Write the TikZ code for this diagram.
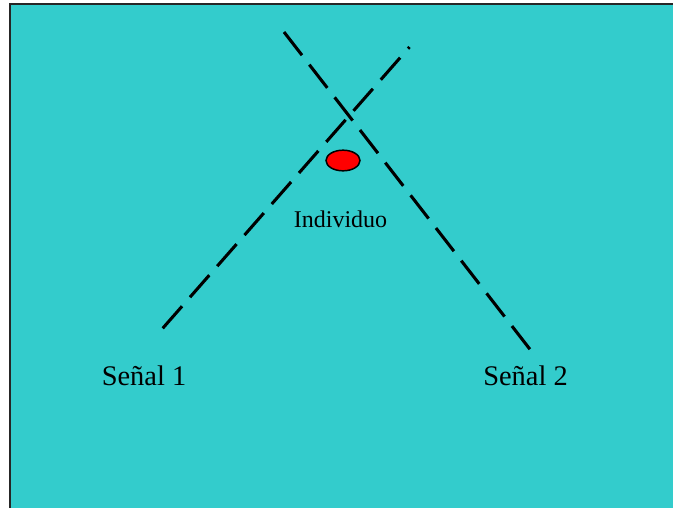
\documentclass[tikz,border=0pt]{standalone}
\usepackage{fontspec}
\setmainfont{Liberation Serif}
\usepackage{tikz}
\usetikzlibrary{positioning,shapes.geometric}
\definecolor{fondo}{RGB}{51,204,204}

\begin{document}
\begin{tikzpicture}[
    x=0.75pt, y=-0.75pt,
    senal/.style={draw, line width=2.3pt, dash pattern=on 22pt off 9pt},
    etiqueta/.style={anchor=base, inner sep=0pt, font=\fontsize{21.3}{24}\selectfont},
    persona/.style={draw, ellipse, fill=red, line width=1.1pt, minimum width=25.5pt, minimum height=15.5pt, inner sep=0pt}
]
\useasboundingbox (0,0) rectangle (673,508);

% Fondo
\fill[fondo] (10,4) rectangle (673,508);
\draw[line width=1.5pt, black!85] (10,508) -- (10,4) -- (673,4);

% Extremos de las señales
\coordinate (s1a) at (162.7,328.3);
\coordinate (s1b) at (409.5,47);
\coordinate (s2a) at (284,32);
\coordinate (s2b) at (530.5,350);

% Señales
\draw[senal] (s1a) -- (s1b);
\draw[senal] (s2a) -- (s2b);

% Individuo
\node[persona] (indiv) at (343,160.5) {};
\node[anchor=base, inner sep=0pt, font=\fontsize{18}{21}\selectfont] (lbl) at (340.5,227.3) {Individuo};

% Etiquetas
\node[etiqueta] (l1) at (144,385.7) {Señal 1};
\node[etiqueta] (l2) at (525.5,385) {Señal 2};

\end{tikzpicture}
\end{document}
